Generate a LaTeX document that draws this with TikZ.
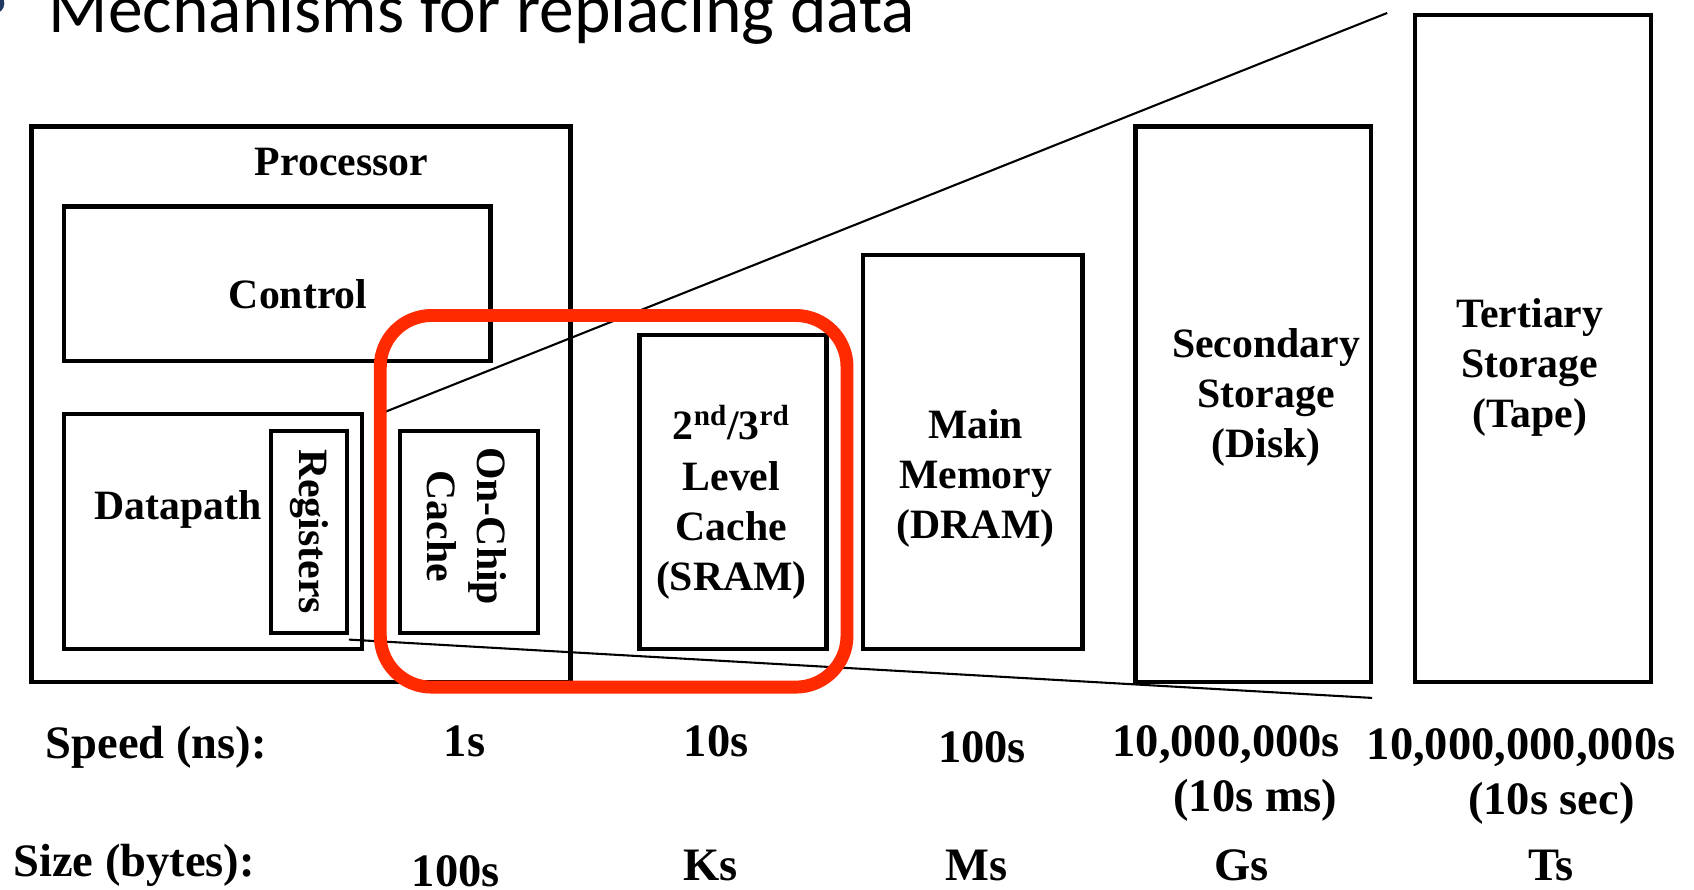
\documentclass[tikz,border=0pt]{standalone}
\usepackage{fontspec}
\setmainfont{Liberation Serif}
\newfontfamily\titlefont{Carlito}
\usetikzlibrary{fit}
\definecolor{hlred}{HTML}{FF2A00}
\definecolor{bulletblue}{HTML}{1F3864}
\begin{document}
\begin{tikzpicture}[x=0.02cm,y=-0.02cm,
  box/.style={draw=black, line width=2.3pt, inner sep=0pt},
  lbl/.style={font=\bfseries\fontsize{22}{26.5}\selectfont, align=center, inner sep=0pt},
  val/.style={font=\bfseries\fontsize{24.5}{29}\selectfont, align=center, inner sep=0pt},
  zoomline/.style={line width=1.1pt},
  focusbox/.style={draw=hlred, line width=6.8pt, rounded corners=0.95cm, inner sep=0pt}]
\useasboundingbox (0,0) rectangle (1568,823);
% title
\fill[bulletblue] (-6,3) circle (0.2cm);
\node[anchor=base west, font=\titlefont\fontsize{36.6}{40}\selectfont, inner sep=0pt] (title) at (45,30) {Mechanisms for replacing data};
% processor
\node[box, fit={(29,117) (528,631)}] (proc) {};
\node[lbl] (proctxt) at (316,150) {Processor};
\node[box, fit={(59,191) (454,334)}] (ctrl) {};
\node[lbl] (ctrltxt) at (276,272) {Control};
\node[box, fit={(59,383) (335,601)}] (dp) {};
\node[lbl] (dptxt) at (165,472) {Datapath};
\node[box, fit={(251,399) (321,586)}] (regs) {};
\node[lbl, rotate=-90] (regstxt) at (286,492) {Registers};
\node[box, fit={(370,399) (498,586)}] (l1) {};
\node[lbl, rotate=-90] (l1txt) at (432,487) {On-Chip\\Cache};
% other levels
\node[box, fit={(592,310) (765,601)}] (l2) {};
\node[lbl] (l2txt) at (677,465) {2\textsuperscript{nd}/3\textsuperscript{rd}\\Level\\Cache\\(SRAM)};
\node[box, fit={(799,236) (1002,601)}] (mem) {};
\node[lbl] (memtxt) at (903,443) {Main\\Memory\\(DRAM)};
\node[box, fit={(1051,117) (1269,631)}] (disk) {};
\node[lbl] (disktxt) at (1172,368) {Secondary\\Storage\\(Disk)};
\node[box, fit={(1310,14) (1528,631)}] (tape) {};
\node[lbl] (tapetxt) at (1416,340) {Tertiary\\Storage\\(Tape)};
% zoom lines
\coordinate (u0) at (352,383);
\coordinate (u1) at (1284,12);
\coordinate (d0) at (323,592);
\coordinate (d1) at (1270,646);
\draw[zoomline] (u0) -- (u1);
\draw[zoomline] (d0) -- (d1);
% highlight
\node[focusbox, fit={(352,292) (784,636)}] (focus) {};
% speed row
\node[val, anchor=west] (speedlbl) at (42,692) {Speed (ns):};
\node[val] (s1) at (430,686) {1s};
\node[val] (s2) at (663,686) {10s};
\node[val] (s3) at (909,692) {100s};
\node[val] (s4) at (1135,689) {10,000,000s};
\node[val] (s4b) at (1162,741) {(10s ms)};
\node[val] (s5) at (1408,692) {10,000,000,000s};
\node[val] (s5b) at (1436,744) {(10s sec)};
% size row
\node[val, anchor=west] (sizelbl) at (12,801) {Size (bytes):};
\node[val] (z1) at (422,806) {100s};
\node[val] (z2) at (658,801) {Ks};
\node[val] (z3) at (904,801) {Ms};
\node[val] (z4) at (1149,801) {Gs};
\node[val] (z5) at (1436,801) {Ts};
\end{tikzpicture}
\end{document}
